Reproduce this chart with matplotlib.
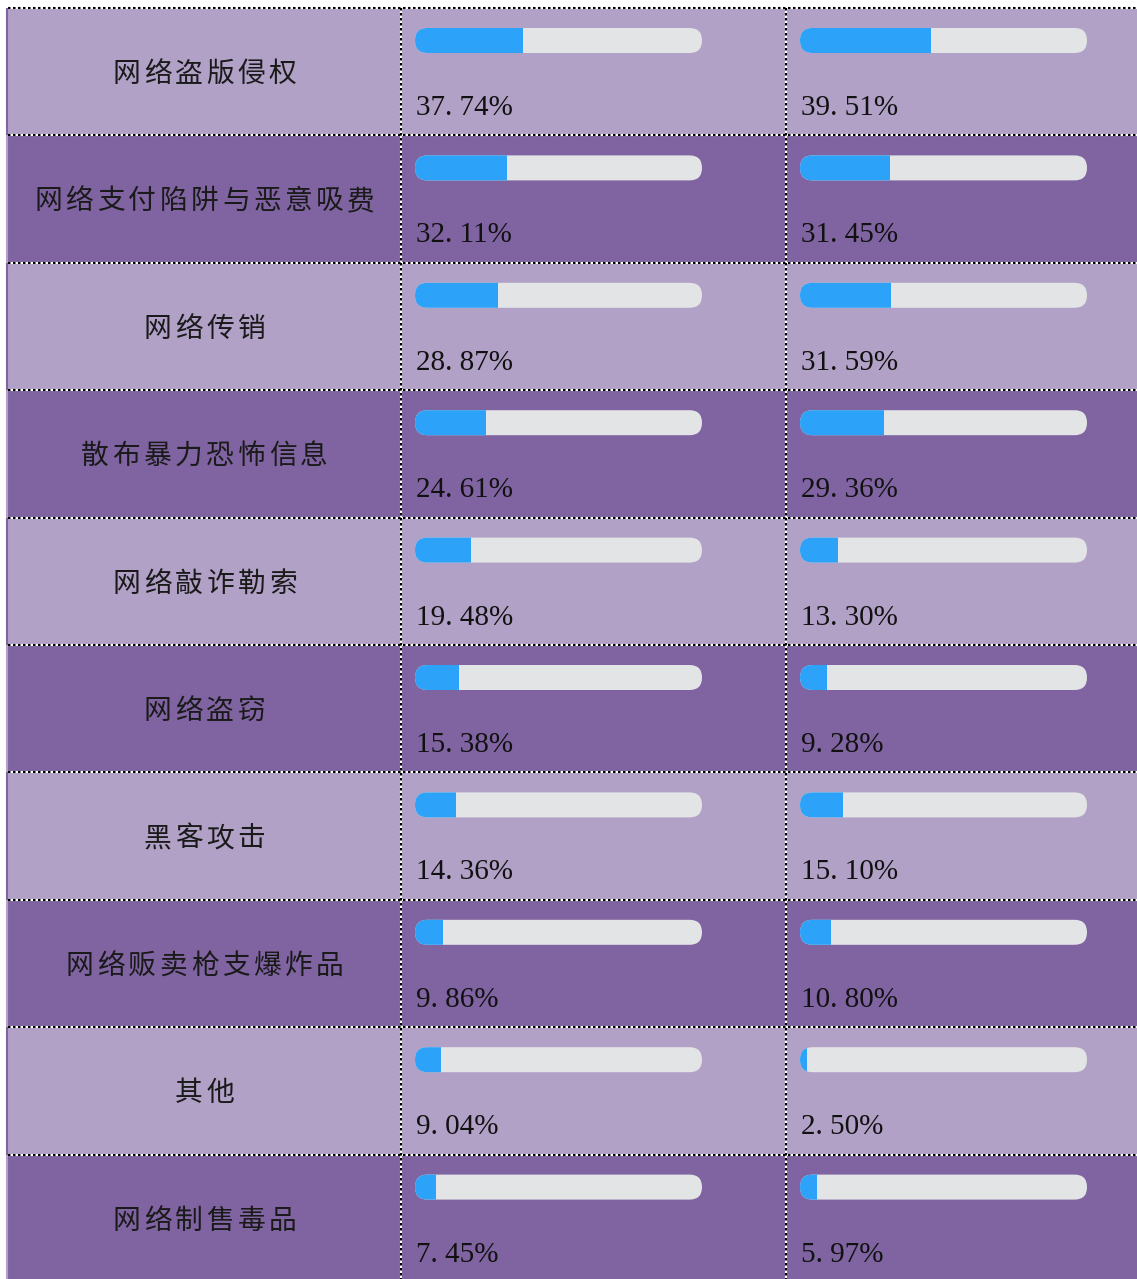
import matplotlib
matplotlib.use("Agg")
import matplotlib.pyplot as plt
from matplotlib.patches import Rectangle, FancyBboxPatch

# ---------------- data ----------------
categories = ["网络盗版侵权", "网络支付陷阱与恶意吸费", "网络传销", "散布暴力恐怖信息",
              "网络敲诈勒索", "网络盗窃", "黑客攻击", "网络贩卖枪支爆炸品", "其他", "网络制售毒品"]
values_a = [37.74, 32.11, 28.87, 24.61, 19.48, 15.38, 14.36, 9.86, 9.04, 7.45]
values_b = [39.51, 31.45, 31.59, 29.36, 13.30, 9.28, 15.10, 10.80, 2.50, 5.97]
# bar fill lengths as drawn in the picture (first bar of column b is drawn longer than its label)
bars_a = values_a
bars_b = [45.8, 31.45, 31.59, 29.36, 13.30, 9.28, 15.10, 10.80, 2.50, 5.97]

# ---------------- style ----------------
W, H = 1137, 1279
RH = 127.4          # row height (px)
TOP = 8             # top offset (px)
col_edges = [8, 401, 786, 1137]
light = "#B2A1C7"
dark = "#8064A2"
blue = "#2CA3F8"
track = "#E3E4E6"
bar_w = 287
bar_off = 20 / RH
bar_h = 25 / RH
rad = 12.5

fig = plt.figure(figsize=(W / 100, H / 100), dpi=100)
fig.patch.set_facecolor("white")
ax = fig.add_axes([0, 0, 1, 1])
ax.set_xlim(0, W)
ax.set_ylim((H - TOP) / RH, -TOP / RH)
ax.axis("off")

n = len(categories)
for i in range(n):
    fc = light if i % 2 == 0 else dark
    ax.add_patch(Rectangle((col_edges[0], i), W - col_edges[0], 1, facecolor=fc,
                           edgecolor="none", zorder=1))
    # left border, drawn in the alternate shade
    ax.plot([col_edges[0] - 1, col_edges[0] - 1], [i, i + 1],
            color=dark if i % 2 == 0 else light, lw=1.5, zorder=2,
            solid_capstyle="butt")

    # category label, letter-spaced
    cx = (col_edges[0] + col_edges[1]) / 2
    txt = categories[i]
    pitch = 31.3
    start = cx - pitch * (len(txt) - 1) / 2
    for k, ch in enumerate(txt):
        ax.text(start + k * pitch, i + 66 / RH, ch, ha="center", va="center",
                fontsize=20, color="#1a1a1a", fontweight="light",
                family=["Noto Sans CJK SC", "DejaVu Sans"], zorder=5)

    for col, (vals, bars) in enumerate([(values_a, bars_a), (values_b, bars_b)]):
        x0 = col_edges[col + 1] + 14
        y0 = i + bar_off
        tr = FancyBboxPatch((x0, y0), bar_w, bar_h,
                            boxstyle=f"round,pad=0,rounding_size={rad}",
                            mutation_aspect=1 / RH, facecolor=track,
                            edgecolor="none", zorder=3)
        ax.add_patch(tr)
        fl = FancyBboxPatch((x0, y0), bar_w, bar_h,
                            boxstyle=f"round,pad=0,rounding_size={rad}",
                            mutation_aspect=1 / RH, facecolor=blue,
                            edgecolor="none", zorder=4)
        ax.add_patch(fl)
        clip = Rectangle((x0, i), bar_w * bars[i] / 100.0, 1, transform=ax.transData)
        fl.set_clip_path(clip)

        label = f"{vals[i]:.2f}".replace(".", ". ") + "%"
        ax.text(x0 + 1, i + 107 / RH, label, ha="left", va="baseline",
                fontsize=21, color="#111111", family="Liberation Serif", zorder=5)

# dotted grid lines
lw = 1.5
bottom = (H - TOP) / RH + 0.1
for i in range(n + 1):
    ax.plot([col_edges[0], W], [i, i], color="white", lw=lw, zorder=6,
            solid_capstyle="butt")
    ax.plot([col_edges[0], W], [i, i], color="black", lw=lw, zorder=7,
            linestyle=(0, (1.2, 1.2)), dash_capstyle="butt")
for xe in col_edges[1:3]:
    ax.plot([xe, xe], [0, bottom], color="white", lw=lw, zorder=6,
            solid_capstyle="butt")
    ax.plot([xe, xe], [0, bottom], color="black", lw=lw, zorder=7,
            linestyle=(0, (1.2, 1.2)), dash_capstyle="butt")

fig.savefig("out.png", dpi=100, facecolor="white")
